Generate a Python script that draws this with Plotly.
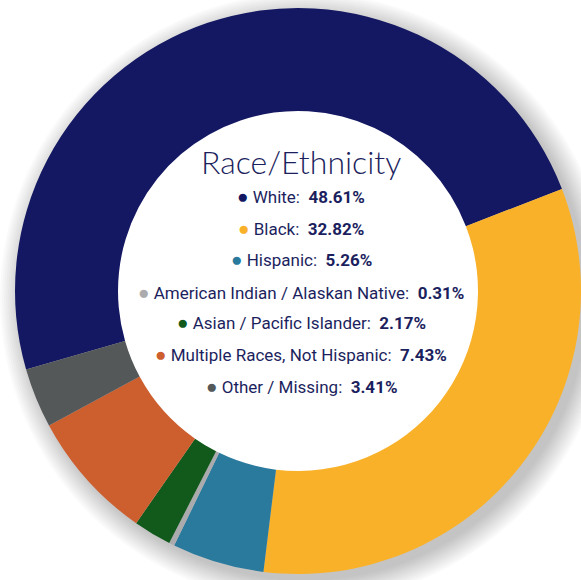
import plotly.graph_objects as go

# ---- data ----
categories = ["White", "Black", "Hispanic", "American Indian / Alaskan Native",
              "Asian / Pacific Islander", "Multiple Races, Not Hispanic", "Other / Missing"]
values = [48.61, 32.82, 5.26, 0.31, 2.17, 7.43, 3.41]
value_labels = ["48.61%", "32.82%", "5.26%", "0.31%", "2.17%", "7.43%", "3.41%"]
colors = ["#141862", "#F9B129", "#2A7A9E", "#ABABAE", "#115A1C", "#CD5F2F", "#545859"]
title_text = "Race/Ethnicity"

W, H = 581, 580
NAVY = "#1C1F5E"
ROW_FONT = "Roboto, 'Liberation Sans', sans-serif"
HOLE = 0.636

fig = go.Figure(go.Pie(
    labels=categories, values=values, hole=HOLE, sort=False,
    direction="clockwise", rotation=-106.1,
    marker=dict(colors=colors, line=dict(width=0)),
    textinfo="none", hoverinfo="label+percent", showlegend=False,
    domain=dict(x=[15 / W, 1], y=[6 / H, 572 / H]),
))

# soft drop shadow behind the ring
cx, cy, R = 298, 291, 283
shapes = []
for k in range(12):
    r = R + 2 * k
    shapes.append(dict(
        type="circle", layer="below",
        xref="paper", yref="paper", xsizemode="pixel", ysizemode="pixel",
        xanchor=cx / W, yanchor=1 - cy / H,
        x0=7 - r, x1=7 + r, y0=-7 - r, y1=-7 + r,
        fillcolor="rgba(0,0,0,0.018)", line=dict(width=0),
    ))
# white disc so the hole stays white
rh = R * HOLE + 1
shapes.append(dict(
    type="circle", layer="below",
    xref="paper", yref="paper", xsizemode="pixel", ysizemode="pixel",
    xanchor=cx / W, yanchor=1 - cy / H,
    x0=-rh, x1=rh, y0=-rh, y1=rh,
    fillcolor="white", line=dict(width=0),
))

annotations = [dict(
    text=title_text, x=301 / W, y=1 - 161 / H, xref="paper", yref="paper",
    xanchor="center", yanchor="middle", showarrow=False,
    font=dict(family="Lato, 'Open Sans', sans-serif", size=32, color=NAVY, weight=300),
)]
row_y = [197, 228, 259, 292, 323, 355, 387]
for cat, lab, col, yy in zip(categories, value_labels, colors, row_y):
    annotations.append(dict(
        text=f"<span style='color:{col};font-size:19px'>●</span> {cat}:  <b>{lab}</b>",
        x=301 / W, y=1 - yy / H, xref="paper", yref="paper",
        xanchor="center", yanchor="middle", showarrow=False,
        font=dict(family=ROW_FONT, size=17, color=NAVY),
    ))

fig.update_layout(
    width=W, height=H, margin=dict(l=0, r=0, t=0, b=0, pad=0),
    paper_bgcolor="white", plot_bgcolor="white",
    shapes=shapes, annotations=annotations,
)

fig.write_html("out.html", config={"displayModeBar": False},
               post_script="document.body.style.margin='0px';")
